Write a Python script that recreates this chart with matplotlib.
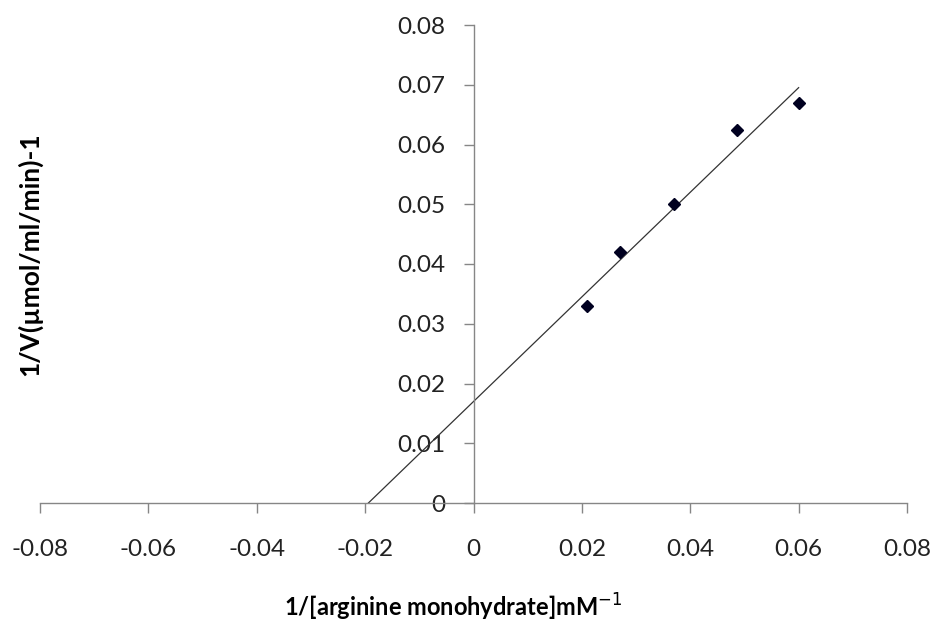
import numpy as np
import matplotlib
matplotlib.use("Agg")
import matplotlib.pyplot as plt

# Lineweaver-Burk data
inv_s = [0.021, 0.027, 0.037, 0.0487, 0.060]      # 1/[S]  mM^-1
inv_v = [0.033, 0.042, 0.050, 0.0625, 0.067]      # 1/V

x_ticks = [-0.08, -0.06, -0.04, -0.02, 0, 0.02, 0.04, 0.06, 0.08]
y_ticks = [0, 0.01, 0.02, 0.03, 0.04, 0.05, 0.06, 0.07, 0.08]

plt.rcParams['font.family'] = ['Lato', 'DejaVu Sans']

fig = plt.figure(figsize=(9.36, 6.3), dpi=100)
ax = fig.add_axes([40 / 936, 1 - 503 / 630, 867 / 936, 478 / 630])

# linear trendline, extended back to the x-intercept
m, b = np.polyfit(inv_s, inv_v, 1)
xl = np.array([-b / m, max(inv_s)])
ax.plot(xl, m * xl + b, color='#333333', lw=0.9)

ax.plot(inv_s, inv_v, 'D', color='#000020', ms=6.5, zorder=3)

ax.set_xlim(-0.08, 0.08)
ax.set_ylim(0, 0.08)

# axes crossing at zero
ax.spines['left'].set_position(('data', 0))
ax.spines['bottom'].set_position(('data', 0))
ax.spines['right'].set_visible(False)
ax.spines['top'].set_visible(False)
for s in ('left', 'bottom'):
    ax.spines[s].set_color('#868686')
    ax.spines[s].set_linewidth(1)

ax.set_xticks(x_ticks)
ax.set_xticklabels(['0' if v == 0 else '%.2f' % v for v in x_ticks])
ax.set_yticks(y_ticks)
ax.set_yticklabels(['0' if v == 0 else '%.2f' % v for v in y_ticks])
ax.tick_params(axis='both', direction='out', length=7, width=1, color='#868686',
               labelsize=17.5, labelcolor='#222222')
ax.tick_params(axis='x', pad=19)
ax.tick_params(axis='y', pad=13)

fig.text(453 / 936, 1 - 607 / 630, '1/[arginine monohydrate]mM$^{-1}$',
         ha='center', va='center', fontsize=17, fontweight='bold')
fig.text(30 / 936, 1 - 254 / 630, '1/V(µmol/ml/min)-1', rotation=90,
         ha='center', va='center', fontsize=19, fontweight='bold')

fig.savefig('out.png', dpi=100)
